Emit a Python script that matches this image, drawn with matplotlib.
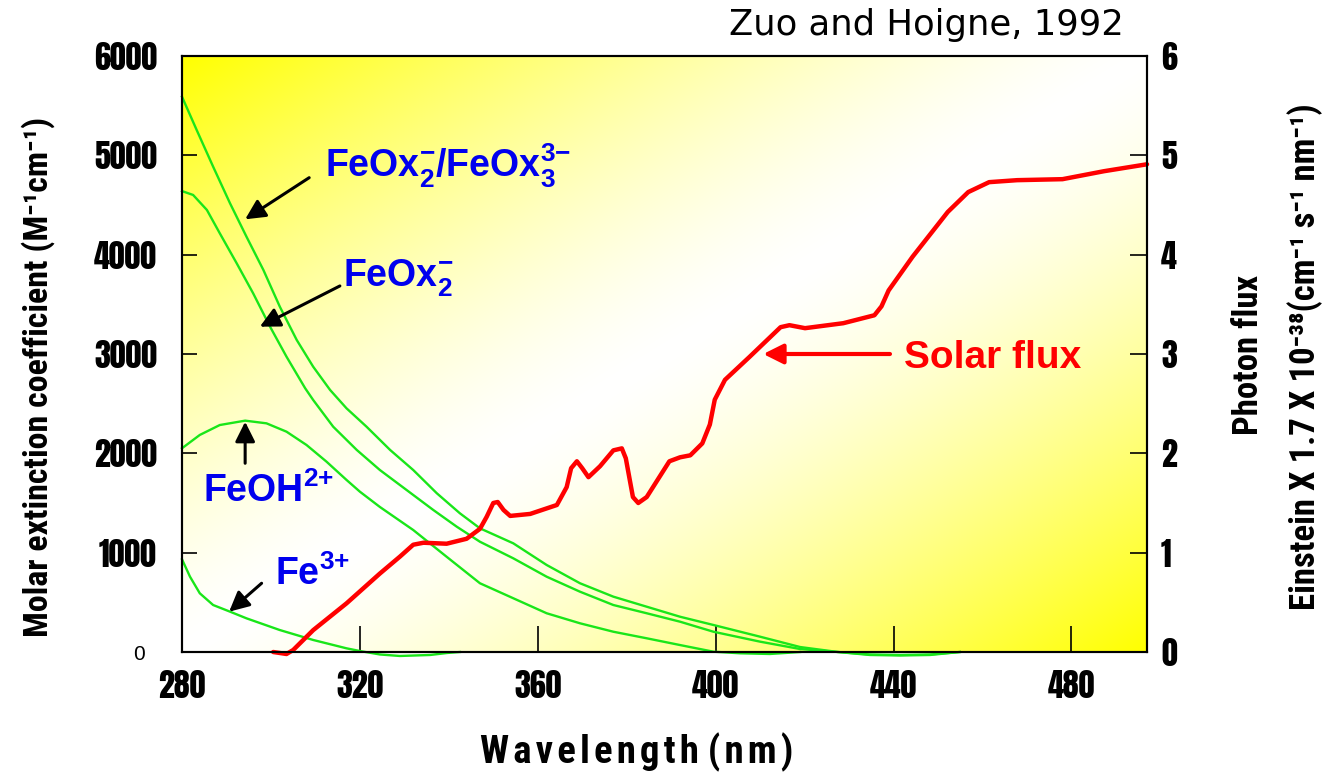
import numpy as np
import matplotlib
matplotlib.use('Agg')
import matplotlib.pyplot as plt
from matplotlib import font_manager

# ---------------- data ----------------
wl_feox3 = [280.0, 283.3, 287.0, 290.8, 294.5, 298.3, 302.0, 305.8, 309.5, 313.3, 317.0,
            321.5, 326.8, 332.0, 337.3, 342.5, 347.0, 354.5, 362.0, 369.5, 377.0, 384.5,
            392.0, 399.5, 410.0, 419.0, 427.5, 434.7, 441.5, 448.2, 454.9]
eps_feox3 = [5590, 5255, 4886, 4517, 4181, 3846, 3476, 3141, 2872, 2638, 2453,
             2268, 2034, 1832, 1598, 1396, 1245, 1094, 876, 692, 557, 456,
             355, 272, 154, 50, 0, -30, -35, -30, 0]

wl_feox2 = [280.0, 282.5, 285.6, 288.5, 292.3, 296.0, 299.8, 303.5, 307.7, 309.5, 314.0,
            319.3, 324.5, 330.5, 336.5, 341.8, 347.0, 354.5, 362.0, 369.5, 377.0, 384.5,
            392.0, 399.5, 410.0, 419.0, 427.5, 434.7, 441.5, 448.2, 454.9]
eps_feox2 = [4640, 4601, 4450, 4215, 3913, 3611, 3275, 2973, 2655, 2537, 2268,
             2034, 1832, 1631, 1430, 1261, 1110, 943, 758, 607, 473, 390,
             305, 204, 104, 30, 0, -25, -30, -25, 0]

wl_feoh = [280.0, 284.0, 288.5, 294.2, 299.0, 303.5, 308.0, 312.5, 317.0, 320.0, 324.5,
           332.0, 339.5, 347.0, 354.5, 362.0, 369.5, 377.0, 384.5, 392.0, 399.5, 405.5,
           412.2, 419.0]
eps_feoh = [2051, 2185, 2285, 2329, 2302, 2218, 2084, 1916, 1732, 1614, 1460,
            1228, 959, 692, 541, 390, 289, 204, 138, 70, 3, -13,
            -20, 0]

wl_fe3 = [280.0, 281.8, 284.0, 287.0, 290.8, 294.5, 302.0, 309.5, 317.0, 320.0, 324.5,
          329.0, 335.8, 339.6, 342.5]
eps_fe3 = [933, 758, 591, 473, 406, 339, 221, 121, 37, 10, -25,
           -40, -30, -10, 0]

wl_sun = [300.5, 303.5, 305.0, 309.5, 317.0, 324.5, 329.0, 332.0, 334.3, 339.5, 344.0,
          347.0, 348.5, 350.0, 351.0, 352.3, 353.8, 358.3, 364.3, 366.5, 367.5, 368.8,
          370.0, 371.4, 374.0, 377.0, 378.9, 379.8, 380.7, 381.4, 382.6, 384.5, 389.6,
          392.0, 394.3, 397.0, 398.7, 399.8, 402.1, 407.6, 414.6, 416.6, 420.1, 428.7,
          435.7, 437.3, 438.9, 444.3, 452.2, 456.8, 461.5, 467.8, 478.0, 487.3, 497.0]
flux_sun = [0.0, -0.02, 0.02, 0.22, 0.49, 0.79, 0.96, 1.08, 1.10, 1.09, 1.14,
            1.24, 1.36, 1.50, 1.51, 1.43, 1.37, 1.39, 1.48, 1.66, 1.85, 1.92,
            1.85, 1.76, 1.87, 2.03, 2.05, 1.95, 1.73, 1.56, 1.50, 1.56, 1.92,
            1.96, 1.98, 2.10, 2.29, 2.54, 2.74, 2.97, 3.27, 3.29, 3.26, 3.31,
            3.39, 3.48, 3.64, 3.98, 4.43, 4.63, 4.73, 4.75, 4.76, 4.84, 4.91]

x_ticks = [280, 320, 360, 400, 440, 480]
y_left_ticks = [0, 1000, 2000, 3000, 4000, 5000, 6000]
y_right_ticks = [0, 1, 2, 3, 4, 5, 6]

# ---------------- fonts ----------------
weights = {}
for f in font_manager.fontManager.ttflist:
    w = f.weight
    if isinstance(w, str):
        w = font_manager.weight_dict.get(w, 400)
    if f.style == 'normal':
        weights.setdefault(f.name, set()).add(int(w))


def pick(cands, default='Liberation Sans', need_bold=False):
    for c in cands:
        if c in weights and (not need_bold or max(weights[c]) >= 700):
            return c
    return default


NARROW = pick(['Arial Narrow', 'Liberation Sans Narrow', 'Archivo Narrow', 'Roboto Condensed',
               'PT Sans Narrow', 'Pragati Narrow', 'Asap Condensed', 'Barlow Condensed',
               'Encode Sans Condensed'], need_bold=True)
HEAVY = pick(['Impact', 'Anton', 'Oswald'], NARROW)
TITLEF = pick(['Verdana', 'DejaVu Sans'], 'DejaVu Sans')

plt.rcParams['mathtext.fontset'] = 'custom'
plt.rcParams['mathtext.rm'] = 'Liberation Sans:bold'
plt.rcParams['mathtext.bf'] = 'Liberation Sans:bold'
plt.rcParams['mathtext.it'] = 'Liberation Sans:bold'
plt.rcParams['mathtext.sf'] = 'Liberation Sans:bold'
plt.rcParams['mathtext.default'] = 'bf'

GREEN = '#19e619'
RED = '#ff0000'
BLUE = '#0000ee'

W, H = 1331, 778
fig = plt.figure(figsize=(W / 100, H / 100), dpi=100)
rect = [182 / W, 126 / H, 965 / W, 596 / H]

# background gradient: yellow at top-left and bottom-right, white along the other diagonal
bg = fig.add_axes(rect, zorder=0)
xx = np.linspace(0, 1, 600)
yy = np.linspace(1, 0, 400)
X, Y = np.meshgrid(xx, yy)
t = (X - Y + 1) / 2
s = np.clip(np.abs(t - 0.5) / 0.5, 0, 1) ** 1.4
img = np.dstack([np.ones_like(s), np.ones_like(s), 1 - s])
bg.imshow(img, extent=[0, 1, 0, 1], aspect='auto', origin='upper', interpolation='bilinear')
bg.axis('off')

ax = fig.add_axes(rect, zorder=1)
ax.patch.set_alpha(0)
ax2 = ax.twinx()
ax2.patch.set_alpha(0)

kw = dict(color=GREEN, lw=1.7, clip_on=False, solid_joinstyle='round', zorder=2)
ax.plot(wl_feox3, eps_feox3, **kw)
ax.plot(wl_feox2, eps_feox2, **kw)
ax.plot(wl_feoh, eps_feoh, **kw)
ax.plot(wl_fe3, eps_fe3, **kw)
ax2.plot(wl_sun, flux_sun, color=RED, lw=3.2, clip_on=False,
         solid_joinstyle='round', solid_capstyle='round', zorder=3)

ax.set_xlim(280, 497)
ax.set_ylim(0, 6000)
ax2.set_ylim(0, 6)
ax.set_xticks(x_ticks)
ax.set_yticks(y_left_ticks)
ax2.set_yticks(y_right_ticks)
ax.set_xticklabels([str(v) for v in x_ticks])
ax.set_yticklabels([str(v) if v else '0  ' for v in y_left_ticks])
ax2.set_yticklabels([str(v) for v in y_right_ticks])

ax.tick_params(axis='x', direction='in', length=19, width=1.2, pad=13, color='black')
ax.tick_params(axis='y', direction='in', length=11, width=1.2, pad=18, color='black')
ax2.tick_params(axis='y', direction='in', length=12, width=1.2, pad=10, color='black')
for a in (ax, ax2):
    for sp in a.spines.values():
        sp.set_linewidth(1.5)
        sp.set_zorder(4)

fp_tick = font_manager.FontProperties(family=HEAVY, weight='bold', size=23)
for lab in ax.get_xticklabels() + ax.get_yticklabels() + ax2.get_yticklabels():
    lab.set_fontproperties(fp_tick)
ax.get_yticklabels()[0].set_fontproperties(
    font_manager.FontProperties(family='Liberation Sans', weight='normal', size=15))

lab_fam = [NARROW, 'DejaVu Sans']
# axis titles
fig.text(38 / W, 1 - 377 / H, 'Molar extinction coefficient (M\u207b\u00b9cm\u207b\u00b9)',
         rotation=90, ha='center', va='center', fontsize=24.5, fontweight='bold', family=lab_fam)
fig.text(1249 / W, 1 - 355 / H, 'Photon flux', rotation=90, ha='center', va='center',
         fontsize=25, fontweight='bold', family=lab_fam)
fig.text(1305 / W, 1 - 357 / H,
         'Einstein X 1.7 X 10\u207b\u00b3\u2078(cm\u207b\u00b9 s\u207b\u00b9 nm\u207b\u00b9)',
         rotation=90, ha='center', va='center', fontsize=25, fontweight='bold', family=lab_fam)
fig.text(637 / W, 1 - 752 / H, '\u200a'.join('Wavelength') + ' ' + '\u200a'.join('(nm)'),
         ha='center', va='center', fontsize=28, fontweight='bold', family=lab_fam)
fig.text(926 / W, 1 - 25 / H, 'Zuo and Hoigne, 1992', ha='center', va='center',
         fontsize=25.5, family=TITLEF)

# species labels and arrows
ax.text(312.2, 4772, r'$FeOx_2^{{-}}/FeOx_3^{3{-}}$', color=BLUE, fontsize=27, ha='left', va='baseline')
ax.text(316.3, 3678, r'$FeOx_2^{{-}}$', color=BLUE, fontsize=27, ha='left', va='baseline')
ax.text(284.7, 1513, r'$FeOH^{2{+}}$', color=BLUE, fontsize=27, ha='left', va='baseline')
ax.text(300.9, 674, r'$Fe^{3{+}}$', color=BLUE, fontsize=27, ha='left', va='baseline')
ax.text(442.4, 2856, 'Solar flux', color=RED, fontsize=28, fontweight='bold',
        family='Liberation Sans', ha='left', va='baseline')

akw = dict(arrowstyle='-|>,head_length=0.6,head_width=0.3', color='black', lw=2.2,
           mutation_scale=20, shrinkA=0, shrinkB=0)
ax.annotate('', xy=(294.2, 4356), xytext=(308.6, 4775), arrowprops=akw)
ax.annotate('', xy=(297.5, 3275), xytext=(315.5, 3685), arrowprops=akw)
ax.annotate('', xy=(294.2, 2318), xytext=(294.2, 1900), arrowprops=akw)
ax.annotate('', xy=(290.6, 406), xytext=(297.9, 692), arrowprops=akw)
rkw = dict(akw)
rkw.update(color=RED, lw=3)
ax.annotate('', xy=(410.7, 3000), xytext=(439.2, 3000), arrowprops=rkw)

fig.savefig('out.png', dpi=100)
